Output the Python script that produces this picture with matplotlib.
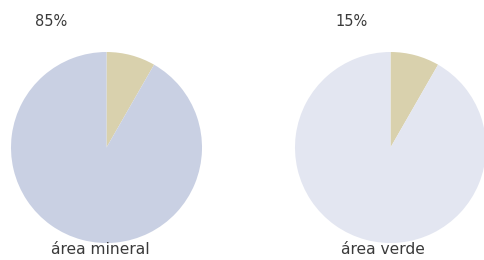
import matplotlib
matplotlib.use("Agg")
import matplotlib.pyplot as plt

# Data
titles = ["85%", "15%"]
labels = ["área mineral", "área verde"]
wedge_values = [[8.3, 91.7], [8.3, 91.7]]
main_colors = ["#C9D0E3", "#E3E6F1"]
accent_color = "#D9D1AD"

W, H = 484, 260
fig = plt.figure(figsize=(W / 100, H / 100), dpi=100)
ax = fig.add_axes([0, 0, 1, 1])

centers = [(106.5, H - 147.5), (390.5, H - 147.5)]
radius = 95.5
title_x = [51, 352]
label_x = [100.5, 382.5]

for i in range(2):
    ax.pie(wedge_values[i], colors=[accent_color, main_colors[i]],
           startangle=90, counterclock=False, center=centers[i],
           radius=radius, frame=True, wedgeprops=dict(linewidth=0))
    ax.text(title_x[i], H - 22, titles[i], ha="center", va="center",
            fontsize=10.5, color="#3a3a3a", family="DejaVu Sans")
    ax.text(label_x[i], H - 249, labels[i], ha="center", va="center",
            fontsize=11.2, color="#3a3a3a", family="DejaVu Sans")

ax.set_xlim(0, W)
ax.set_ylim(0, H)
ax.set_aspect("equal")
ax.axis("off")

fig.savefig("out.png", dpi=100)
